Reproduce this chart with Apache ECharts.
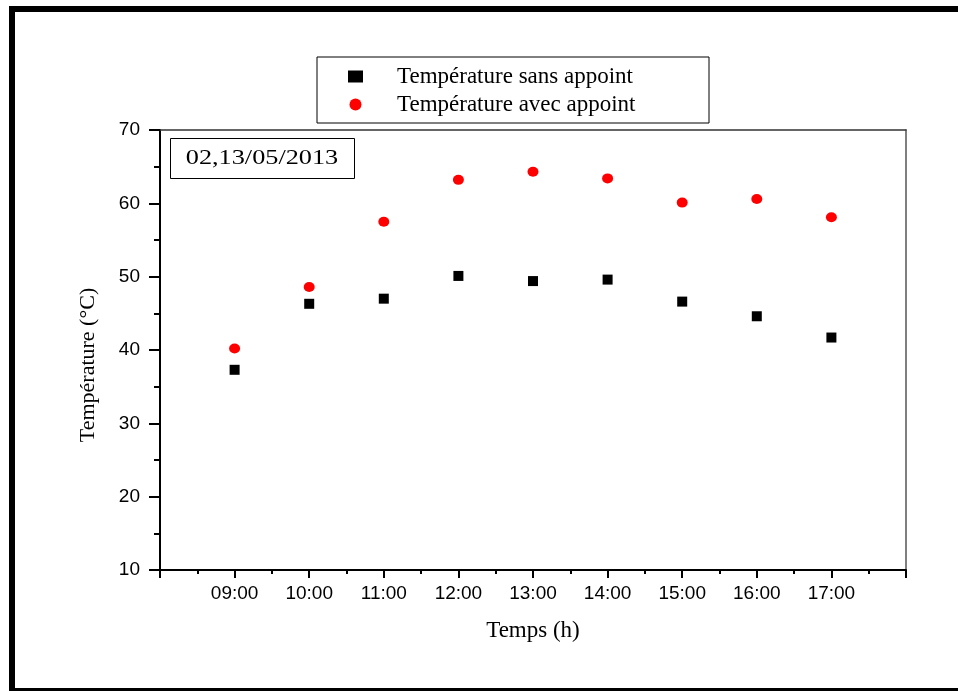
<!DOCTYPE html>
<html>
<head>
<meta charset="utf-8">
<script src="https://cdn.jsdelivr.net/npm/echarts@6/dist/echarts.min.js"></script>
<style>
html,body{margin:0;padding:0;background:#fff;}
#chart{width:958px;height:691px;}
</style>
</head>
<body>
<div id="chart"></div>
<script>
// Data
var hours = [9, 10, 11, 12, 13, 14, 15, 16, 17];
var tickLabels = ['09:00', '10:00', '11:00', '12:00', '13:00', '14:00', '15:00', '16:00', '17:00'];
var sansAppoint = [37.3, 46.3, 47.0, 50.1, 49.4, 49.6, 46.6, 44.6, 41.7];
var avecAppoint = [40.2, 48.6, 57.5, 63.2, 64.3, 63.4, 60.1, 60.6, 58.1];
var seriesNames = ['Température sans appoint', 'Température avec appoint'];
var dateLabel = '02,13/05/2013';

function pairs(xs, ys) { return xs.map(function (x, i) { return [x, ys[i]]; }); }

var chart = echarts.init(document.getElementById('chart'), null, { renderer: 'canvas' });
var serif = '"Liberation Serif", "Times New Roman", serif';
var sans = '"Liberation Sans", Arial, sans-serif';

chart.setOption({
  animation: false,
  backgroundColor: '#fff',
  grid: { left: 160, top: 130, right: 52, bottom: 121, containLabel: false },
  legend: {
    orient: 'vertical',
    left: 317,
    top: 57,
    padding: [8, 20, 7, 31],
    itemGap: 5,
    itemWidth: 15,
    itemHeight: 12,
    borderColor: '#000',
    borderWidth: 1,
    borderRadius: 0,
    data: [
      { name: seriesNames[0], icon: 'rect' },
      { name: seriesNames[1], icon: 'circle' }
    ],
    textStyle: { fontFamily: serif, fontSize: 23, color: '#000', padding: [0, 0, 0, 29], width: 292, lineHeight: 22 }
  },
  xAxis: [{
    type: 'value',
    position: 'bottom',
    min: 8, max: 18, interval: 1,
    name: 'Temps (h)',
    nameLocation: 'middle',
    nameGap: 49,
    nameTextStyle: { fontFamily: serif, fontSize: 23, color: '#000' },
    axisLine: { show: true, lineStyle: { color: '#000', width: 2 } },
    axisTick: { show: true, length: 8, lineStyle: { color: '#000', width: 2 } },
    minorTick: { show: true, splitNumber: 2, length: 4, lineStyle: { color: '#000', width: 2 } },
    splitLine: { show: false },
    axisLabel: {
      margin: 14, fontFamily: sans, fontSize: 19, color: '#000',
      showMinLabel: false, showMaxLabel: false,
      formatter: function (v) { var i = hours.indexOf(v); return i >= 0 ? tickLabels[i] : ''; }
    }
  }, {
    type: 'value',
    position: 'top',
    min: 8, max: 18, interval: 1,
    axisLine: { show: true, onZero: false, lineStyle: { color: '#333', width: 1.5 } },
    axisTick: { show: false }, axisLabel: { show: false }, splitLine: { show: false }
  }],
  yAxis: [{
    type: 'value',
    position: 'left',
    min: 10, max: 70, interval: 10,
    name: 'Température (°C)',
    nameLocation: 'middle',
    nameGap: 61,
    nameRotate: 90,
    nameTextStyle: { fontFamily: serif, fontSize: 22, color: '#000', padding: [0, 30, 0, 0] },
    axisLine: { show: true, lineStyle: { color: '#000', width: 2 } },
    axisTick: { show: true, length: 11, lineStyle: { color: '#000', width: 2 } },
    minorTick: { show: true, splitNumber: 2, length: 6, lineStyle: { color: '#000', width: 2 } },
    splitLine: { show: false },
    axisLabel: { margin: 20, fontFamily: sans, fontSize: 19, color: '#000' }
  }, {
    type: 'value',
    position: 'right',
    min: 10, max: 70, interval: 10,
    axisLine: { show: true, onZero: false, lineStyle: { color: '#555', width: 1.5 } },
    axisTick: { show: false }, axisLabel: { show: false }, splitLine: { show: false }
  }],
  series: [{
    name: seriesNames[0],
    type: 'scatter',
    symbol: 'rect',
    symbolSize: [10, 10],
    itemStyle: { color: '#000', opacity: 1 },
    data: pairs(hours, sansAppoint)
  }, {
    name: seriesNames[1],
    type: 'scatter',
    symbol: 'circle',
    symbolSize: [11, 10],
    itemStyle: { color: '#ff0000', opacity: 1 },
    data: pairs(hours, avecAppoint)
  }],
  graphic: [{
    type: 'rect',
    shape: { x: 12, y: 9, width: 1000, height: 682 },
    style: { fill: 'none', stroke: '#000', lineWidth: 6 },
    silent: true
  }, {
    type: 'rect',
    shape: { x: 170.5, y: 138.5, width: 184, height: 40 },
    style: { fill: '#fff', stroke: '#000', lineWidth: 1 },
    z: 10
  }, {
    type: 'text',
    x: 262, y: 158.5,
    scaleX: 1.25,
    style: { text: dateLabel, fontFamily: serif, fontSize: 21, fill: '#000', align: 'center', verticalAlign: 'middle' },
    z: 11
  }]
});
</script>
</body>
</html>
